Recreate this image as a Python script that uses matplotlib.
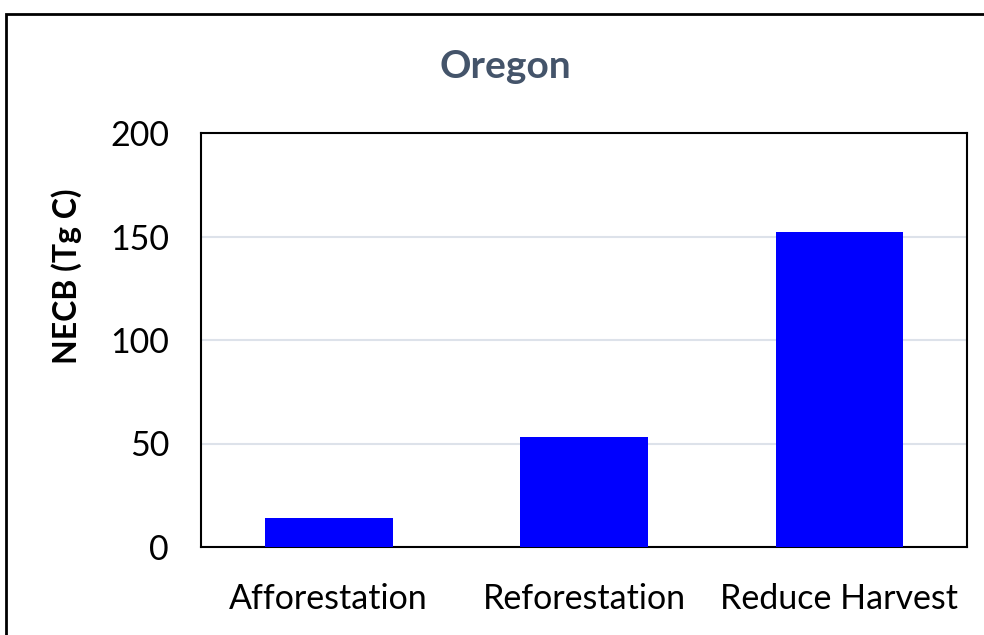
import matplotlib.pyplot as plt
from matplotlib.patches import Rectangle

plt.rcParams['font.family'] = ['Lato', 'DejaVu Sans']

categories = ['Afforestation', 'Reforestation', 'Reduce Harvest']
necb = [14, 53, 152]

fig = plt.figure(figsize=(9.84, 6.35), dpi=100)
ax = fig.add_axes([201/984, 1 - 547/635, (967 - 201)/984, (547 - 133)/635])

ax.bar(categories, necb, width=0.5, color='#0000FF', zorder=3)

ax.set_ylim(0, 200)
ax.set_xlim(-0.5, 2.5)
ax.set_yticks([0, 50, 100, 150, 200])
ax.yaxis.grid(True, color='#DDE2EA', linewidth=1.5, zorder=0)
ax.tick_params(axis='both', length=0, labelsize=24.5, colors='black')
ax.tick_params(axis='x', pad=26)
ax.tick_params(axis='y', pad=23)
for s in ax.spines.values():
    s.set_linewidth(1.5)
    s.set_color('black')

# y label sits above the axis middle in the original
fig.text(67/984, 1 - 276/635, 'NECB (Tg C)', rotation=90, ha='center',
         va='center', fontsize=23, fontweight='bold')
fig.text(505/984, 1 - 67/635, 'Oregon', ha='center', va='center',
         fontsize=28, fontweight='bold', color='#44546A')

# outer chart frame (cut off at right/bottom)
fig.patches.append(Rectangle((6/984, -0.05), 1.1, 1 - 14/635 + 0.05,
                             transform=fig.transFigure, fill=False,
                             edgecolor='black', linewidth=2))

fig.savefig('out.png', dpi=100)
